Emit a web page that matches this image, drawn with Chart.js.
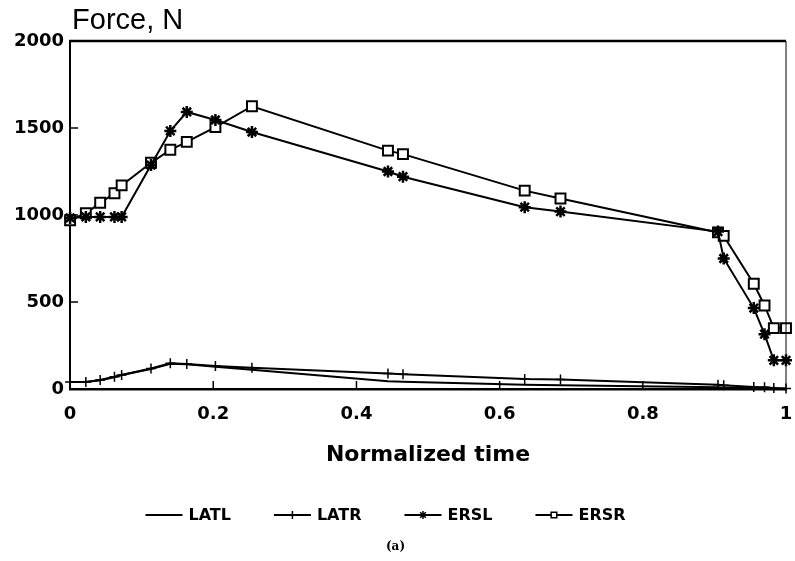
<!DOCTYPE html>
<html>
<head>
<meta charset="utf-8">
<script src="https://cdn.jsdelivr.net/npm/chart.js@4/dist/chart.umd.min.js"></script>
<style>
  html, body { margin: 0; padding: 0; background: #fff; }
</style>
</head>
<body>
<canvas id="chart" width="795" height="561"></canvas>
<script>
// normalized time of each sample (shared by all four muscles)
const times = [0, 0.022, 0.042, 0.062, 0.072, 0.113, 0.14, 0.163, 0.203, 0.254,
               0.444, 0.465, 0.635, 0.685, 0.905, 0.913, 0.955, 0.97, 0.983, 1];

// forces in N
const latl = [40, 40, 50, 68, 80, 115, 145, 142, 128, 110,
              45, 42, 25, 22, 10, 9, 6, 5, 3, 2];
const latr = [40, 40, 52, 70, 81, 118, 148, 143, 132, 122,
              89, 85, 57, 55, 25, 22, 12, 10, 6, 3];
const ersl = [983, 989, 989, 989, 989, 1287, 1483, 1592, 1546, 1477,
              1250, 1220, 1045, 1020, 905, 750, 465, 315, 165, 165];
const ersr = [970, 1010, 1070, 1125, 1170, 1300, 1375, 1420, 1505, 1625,
              1370, 1350, 1140, 1095, 900, 880, 605, 480, 350, 350];

const seriesNames = ['LATL', 'LATR', 'ERSL', 'ERSR'];
const seriesValues = [latl, latr, ersl, ersr];
const markerStyles = [false, 'cross', 'star', 'rect'];

const yTicks = [0, 500, 1000, 1500, 2000];
const xTicks = [0, 0.2, 0.4, 0.6, 0.8, 1];

const boldFont = size => ({ family: 'DejaVu Sans', weight: 'bold', size: size });

function toPoints(values) {
  return times.map((t, i) => ({ x: t, y: values[i] }));
}

const datasets = seriesNames.map((name, i) => ({
  label: name,
  data: toPoints(seriesValues[i]),
  showLine: true,
  borderColor: '#000',
  borderWidth: 2,
  backgroundColor: '#fff',
  pointStyle: markerStyles[i] || 'circle',
  pointRadius: markerStyles[i] === false ? 0 : (markerStyles[i] === 'rect' ? 7 : (markerStyles[i] === 'star' ? 6 : 5)),
  pointBorderWidth: markerStyles[i] === 'cross' ? 1.5 : (markerStyles[i] === 'star' ? 2.5 : 2),
  pointBackgroundColor: '#fff',
  pointBorderColor: '#000',
  tension: 0,
  clip: false
}));

function drawMarker(ctx, style, x, y, r) {
  ctx.beginPath();
  if (style === 'cross' || style === 'star') {
    ctx.moveTo(x - r, y); ctx.lineTo(x + r, y);
    ctx.moveTo(x, y - r); ctx.lineTo(x, y + r);
  }
  if (style === 'star') {
    const d = r * Math.SQRT1_2;
    ctx.moveTo(x - d, y - d); ctx.lineTo(x + d, y + d);
    ctx.moveTo(x - d, y + d); ctx.lineTo(x + d, y - d);
  }
  if (style === 'rect') {
    ctx.rect(x - r * 0.7, y - r * 0.7, r * 1.4, r * 1.4);
    ctx.fill();
  }
  ctx.stroke();
}

// frame, inward ticks, y title, legend and caption
const decorPlugin = {
  id: 'decor',
  afterDraw(chart) {
    const { ctx, chartArea: a, scales } = chart;
    ctx.save();
    ctx.strokeStyle = '#000';
    ctx.fillStyle = '#000';

    ctx.lineWidth = 2.5;
    ctx.beginPath(); ctx.moveTo(a.left - 1, a.top); ctx.lineTo(a.right, a.top); ctx.stroke();
    ctx.lineWidth = 1;
    ctx.beginPath(); ctx.moveTo(a.right, a.top); ctx.lineTo(a.right, a.bottom); ctx.stroke();

    ctx.lineWidth = 1.5;
    yTicks.slice(1, -1).forEach(v => {
      const py = scales.y.getPixelForValue(v);
      ctx.beginPath(); ctx.moveTo(a.left, py); ctx.lineTo(a.left + 8, py); ctx.stroke();
    });
    xTicks.slice(1, -1).forEach(v => {
      const px = scales.x.getPixelForValue(v);
      ctx.beginPath(); ctx.moveTo(px, a.bottom); ctx.lineTo(px, a.bottom - 8); ctx.stroke();
    });

    ctx.font = '29px "Liberation Sans"';
    ctx.textAlign = 'left';
    ctx.textBaseline = 'alphabetic';
    ctx.fillText('Force, N', a.left + 2, a.top - 12);

    // legend
    const legendY = 515, sampleW = 37, gap = 6, itemGap = 43;
    ctx.font = 'bold 16px "DejaVu Sans"';
    const widths = seriesNames.map(n => sampleW + gap + ctx.measureText(n).width);
    const total = widths.reduce((s, w) => s + w, 0) + itemGap * (widths.length - 1);
    let x = chart.width / 2 - 12 - total / 2;
    ctx.textBaseline = 'middle';
    seriesNames.forEach((name, i) => {
      ctx.lineWidth = 2;
      ctx.beginPath(); ctx.moveTo(x, legendY); ctx.lineTo(x + sampleW, legendY); ctx.stroke();
      if (markerStyles[i]) {
        ctx.fillStyle = '#fff';
        ctx.lineWidth = 1.5;
        drawMarker(ctx, markerStyles[i], x + sampleW / 2, legendY, 4);
        ctx.fillStyle = '#000';
      }
      ctx.fillText(name, x + sampleW + gap, legendY + 1);
      x += widths[i] + itemGap;
    });

    ctx.font = 'bold 12px "DejaVu Serif"';
    ctx.textAlign = 'center';
    ctx.fillText('(a)', chart.width / 2 - 2, 547);
    ctx.restore();
  }
};

new Chart(document.getElementById('chart'), {
  type: 'scatter',
  data: { datasets: datasets },
  options: {
    responsive: false,
    animation: false,
    layout: { padding: { left: 8, top: 41, right: 2, bottom: 89 } },
    plugins: {
      legend: { display: false },
      tooltip: { enabled: false }
    },
    scales: {
      x: {
        type: 'linear',
        min: 0,
        max: 1,
        afterFit: s => { s.paddingRight = 0; },
        grid: { display: true, drawOnChartArea: false, drawTicks: false },
        border: { color: '#000', width: 2.5 },
        ticks: {
          stepSize: 0.2,
          padding: 15,
          color: '#000',
          font: boldFont(18),
          maxRotation: 0,
          callback: v => String(Number(v.toFixed(1)))
        },
        title: {
          display: true,
          text: 'Normalized time',
          color: '#000',
          font: boldFont(22),
          padding: { top: 1, bottom: 4 }
        }
      },
      y: {
        min: 0,
        max: 2000,
        grid: { display: true, drawOnChartArea: false, drawTicks: false },
        border: { color: '#000', width: 2 },
        ticks: {
          stepSize: 500,
          padding: 6,
          color: '#000',
          font: boldFont(18),
          callback: v => String(v)
        }
      }
    }
  },
  plugins: [decorPlugin]
});
</script>
</body>
</html>
